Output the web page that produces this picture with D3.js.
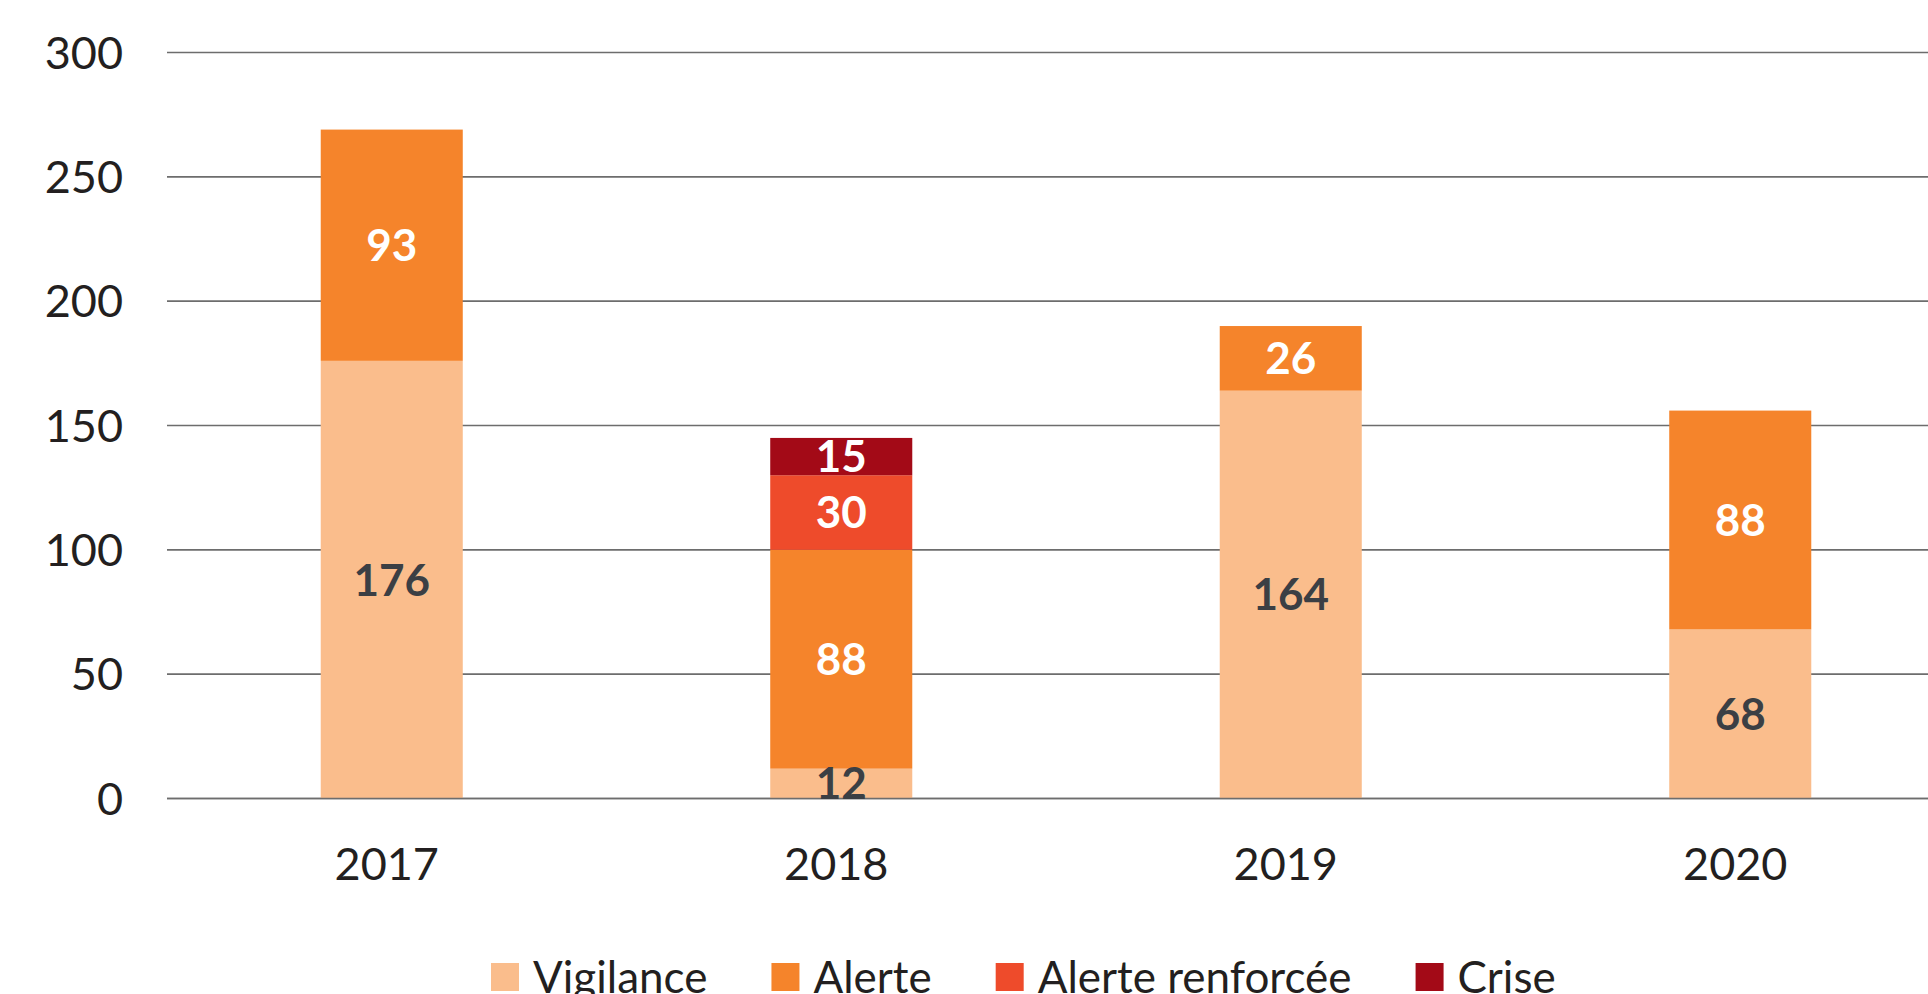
<!DOCTYPE html>
<html>
<head>
<meta charset="utf-8">
<script src="https://cdn.jsdelivr.net/npm/d3@7"></script>
<style>
  body { margin: 0; background: #fff; }
  svg { display: block; }
</style>
</head>
<body>
<div id="chart"></div>
<script>
// data
var years = ["2017", "2018", "2019", "2020"];
var vigilance = [176, 12, 164, 68];
var alerte = [93, 88, 26, 88];
var alerteRenforcee = [0, 30, 0, 0];
var crise = [0, 15, 0, 0];
var seriesNames = ["Vigilance", "Alerte", "Alerte renforcée", "Crise"];
var yTicks = [0, 50, 100, 150, 200, 250, 300];

var colors = ["#fabd8c", "#f5842b", "#ee4b2b", "#a30a17"];
var labelColors = ["#3b3f44", "#ffffff", "#ffffff", "#ffffff"];

// set the dimensions
var W = 1928, H = 994;
var plotLeft = 167, plotTop = 52.5, plotBottom = 798.5;

var svg = d3.select("#chart")
    .append("svg")
    .attr("width", W)
    .attr("height", H);

// build rows for the stack
var keys = ["v", "a", "ar", "c"];
var rows = years.map(function (y, i) {
    return { year: y, v: vigilance[i], a: alerte[i], ar: alerteRenforcee[i], c: crise[i] };
});
var stacked = d3.stack().keys(keys)(rows);

// scales
var x = d3.scaleBand().domain(years).range([plotLeft, 1965])
    .paddingInner(0.684).paddingOuter(0.342);
var y = d3.scaleLinear().domain([0, 300]).range([plotBottom, plotTop]);

// grid lines
svg.append("g")
    .selectAll("line")
    .data(yTicks)
    .enter()
    .append("line")
    .attr("x1", plotLeft)
    .attr("x2", W)
    .attr("y1", function (d) { return y(d); })
    .attr("y2", function (d) { return y(d); })
    .attr("stroke", "#6d6d6d")
    .attr("stroke-width", 1.6);

// y labels
svg.append("g")
    .selectAll("text")
    .data(yTicks)
    .enter()
    .append("text")
    .attr("x", 123)
    .attr("y", function (d) { return y(d); })
    .attr("dy", "0.36em")
    .attr("text-anchor", "end")
    .attr("font-family", "Lato, sans-serif")
    .attr("font-size", "45px")
    .attr("fill", "#231f20")
    .text(function (d) { return d; });

// bars
var layers = svg.append("g")
    .selectAll("g")
    .data(stacked)
    .enter()
    .append("g")
    .attr("fill", function (d, i) { return colors[i]; });

layers.selectAll("rect")
    .data(function (d) { return d; })
    .enter()
    .append("rect")
    .attr("x", function (d) { return x(d.data.year); })
    .attr("width", x.bandwidth())
    .attr("y", function (d) { return y(d[1]); })
    .attr("height", function (d) { return y(d[0]) - y(d[1]); });

// redraw base line over bars
svg.append("line")
    .attr("x1", plotLeft).attr("x2", W)
    .attr("y1", y(0)).attr("y2", y(0))
    .attr("stroke", "#6d6d6d")
    .attr("stroke-width", 1.6);

// value labels
stacked.forEach(function (layer, li) {
    svg.append("g")
        .selectAll("text")
        .data(layer.filter(function (d) { return d[1] - d[0] > 0; }))
        .enter()
        .append("text")
        .attr("x", function (d) { return x(d.data.year) + x.bandwidth() / 2; })
        .attr("y", function (d) { return y((d[0] + d[1]) / 2); })
        .attr("dy", "0.36em")
        .attr("text-anchor", "middle")
        .attr("font-family", "Lato, sans-serif")
        .attr("font-weight", "bold")
        .attr("font-size", "44px")
        .attr("fill", labelColors[li])
        .text(function (d) { return d[1] - d[0]; });
});

// x labels
svg.append("g")
    .selectAll("text")
    .data(years)
    .enter()
    .append("text")
    .attr("x", function (d) { return x(d) + x.bandwidth() / 2 - 5; })
    .attr("y", 880)
    .attr("text-anchor", "middle")
    .attr("font-family", "Lato, sans-serif")
    .attr("font-size", "45px")
    .attr("fill", "#231f20")
    .text(function (d) { return d; });

// legend
var legend = svg.append("g");
var lx = 491;
seriesNames.forEach(function (name, i) {
    legend.append("rect")
        .attr("x", lx)
        .attr("y", 963)
        .attr("width", 28)
        .attr("height", 28)
        .attr("fill", colors[i]);
    var t = legend.append("text")
        .attr("x", lx + 42)
        .attr("y", 993)
        .attr("font-family", "Lato, sans-serif")
        .attr("font-size", "44px")
        .attr("fill", "#231f20")
        .text(name);
    lx = lx + 42 + t.node().getComputedTextLength() + 64;
});
</script>
</body>
</html>
